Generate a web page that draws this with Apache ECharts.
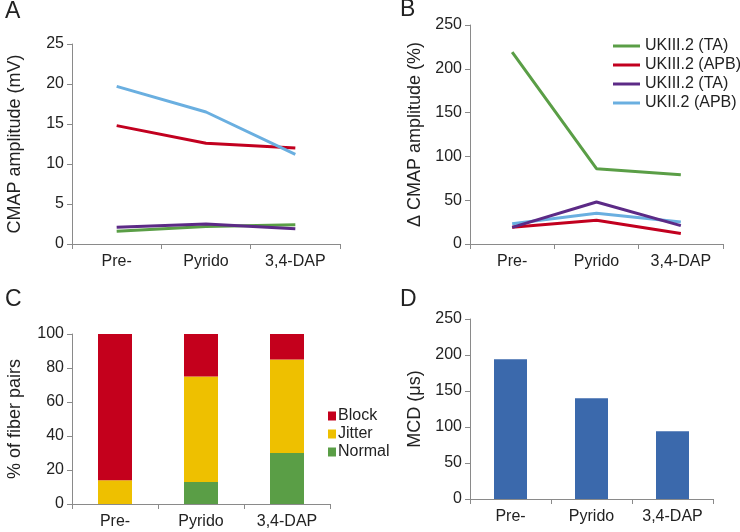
<!DOCTYPE html>
<html>
<head>
<meta charset="utf-8">
<script src="https://cdn.jsdelivr.net/npm/echarts@6/dist/echarts.min.js"></script>
<style>html,body{margin:0;padding:0;background:#fff}#c{width:740px;height:532px}</style>
</head>
<body>
<div id="c"></div>
<script>
var categories = ['Pre-', 'Pyrido', '3,4-DAP'];

// Panel A: CMAP amplitude (mV)
var aGreenTA = [1.6, 2.2, 2.4];
var aRedAPB = [14.8, 12.6, 12.0];
var aPurpleTA = [2.1, 2.5, 1.9];
var aBlueAPB = [19.7, 16.5, 11.2];

// Panel B: delta CMAP amplitude (%)
var bGreenTA = [219, 86, 79];
var bRedAPB = [19, 27, 12];
var bPurpleTA = [19, 48, 21];
var bBlueAPB = [23, 35, 25];

// Panel C: % of fiber pairs
var cNormal = [0, 13, 30];
var cJitter = [14, 62, 55];
var cBlock = [86, 25, 15];

// Panel D: MCD (us)
var dMCD = [194, 140, 94];

var lineNames = ['UKIII.2 (TA)', 'UKIII.2 (APB)', 'UKIII.2 (TA) ', 'UKII.2 (APB)'];
var lineColors = ['#5a9e46', '#c2001f', '#5c2a86', '#6aafe0'];
var stackNames = ['Block', 'Jitter', 'Normal'];
var stackColors = ['#c4001c', '#eec000', '#5a9e46'];
var barColor = '#3b69ac';

var FONT = 'Liberation Sans, Arial, sans-serif';
var AX = '#8a8a8a';
var TX = '#222';

function xAx(idx) {
  return {
    type: 'category', gridIndex: idx, data: categories, boundaryGap: true,
    axisLine: {lineStyle: {color: AX, width: 1}},
    axisTick: {show: true, length: 5, lineStyle: {color: AX}, alignWithLabel: false},
    axisLabel: {color: TX, fontSize: 16, fontFamily: FONT, margin: 10},
    splitLine: {show: false}
  };
}
function yAx(idx, max, interval, name, gap) {
  return {
    type: 'value', gridIndex: idx, min: 0, max: max, interval: interval,
    name: name, nameLocation: 'middle', nameGap: gap,
    nameTextStyle: {color: TX, fontSize: 18, fontFamily: FONT},
    axisLine: {show: true, lineStyle: {color: AX, width: 1}},
    axisTick: {show: true, length: 5, lineStyle: {color: AX}},
    axisLabel: {color: TX, fontSize: 16, fontFamily: FONT, margin: 8},
    splitLine: {show: false}
  };
}

var aData = [aGreenTA, aRedAPB, aPurpleTA, aBlueAPB];
var bData = [bGreenTA, bRedAPB, bPurpleTA, bBlueAPB];
var series = [];
[0, 2, 1, 3].forEach(function (i) {
  series.push({type: 'line', name: lineNames[i], xAxisIndex: 0, yAxisIndex: 0, data: aData[i],
    showSymbol: false, symbol: 'none', lineStyle: {width: 3, color: lineColors[i]}, itemStyle: {color: lineColors[i]}, z: 3});
});
[3, 1, 2, 0].forEach(function (i) {
  series.push({type: 'line', name: lineNames[i], xAxisIndex: 1, yAxisIndex: 1, data: bData[i],
    showSymbol: false, symbol: 'none', lineStyle: {width: 3, color: lineColors[i]}, itemStyle: {color: lineColors[i]}, z: 3});
});
var cData = {Normal: cNormal, Jitter: cJitter, Block: cBlock};
['Normal', 'Jitter', 'Block'].forEach(function (n) {
  var ci = stackNames.indexOf(n);
  series.push({type: 'bar', name: n, stack: 'c', xAxisIndex: 2, yAxisIndex: 2, data: cData[n],
    barWidth: 34, itemStyle: {color: stackColors[ci]}});
});
series.push({type: 'bar', name: 'MCD', xAxisIndex: 3, yAxisIndex: 3, data: dMCD, barWidth: 33, itemStyle: {color: barColor}});

var letterStyle = {fontSize: 23, fontWeight: 'normal', color: TX, fontFamily: FONT};
var option = {
  animation: false,
  backgroundColor: '#fff',
  textStyle: {fontFamily: FONT},
  title: [
    {text: 'A', left: 5, top: 0, padding: 0, textStyle: letterStyle},
    {text: 'B', left: 400, top: -2, padding: 0, textStyle: letterStyle},
    {text: 'C', left: 5, top: 288, padding: 0, textStyle: letterStyle},
    {text: 'D', left: 400, top: 288, padding: 0, textStyle: letterStyle}
  ],
  grid: [
    {left: 72, top: 44, width: 268, height: 200},
    {left: 470, top: 25, width: 253, height: 219},
    {left: 72, top: 334, width: 258, height: 170},
    {left: 470, top: 319, width: 243, height: 180}
  ],
  xAxis: [xAx(0), xAx(1), xAx(2), xAx(3)],
  yAxis: [
    yAx(0, 25, 5, 'CMAP amplitude (mV)', 48),
    yAx(1, 250, 50, '\u0394 CMAP amplitude (%)', 46),
    yAx(2, 100, 20, '% of fiber pairs', 48),
    yAx(3, 250, 50, 'MCD (\u03bcs)', 46)
  ],
  legend: [
    {orient: 'vertical', left: 608, top: 33, data: lineNames, icon: 'rect', itemWidth: 27, itemHeight: 3, itemGap: 3,
      formatter: function (n) { return n.trim(); },
      textStyle: {color: TX, fontSize: 16, fontFamily: FONT}, selectedMode: false},
    {orient: 'vertical', left: 323, top: 403, data: stackNames, icon: 'rect', itemWidth: 8, itemHeight: 9, itemGap: 2,
      textStyle: {color: TX, fontSize: 16, fontFamily: FONT, padding: [0, 0, 0, -3]}, selectedMode: false}
  ],
  series: series
};
var chart = echarts.init(document.getElementById('c'), null, {renderer: 'canvas'});
chart.setOption(option);
</script>
</body>
</html>
